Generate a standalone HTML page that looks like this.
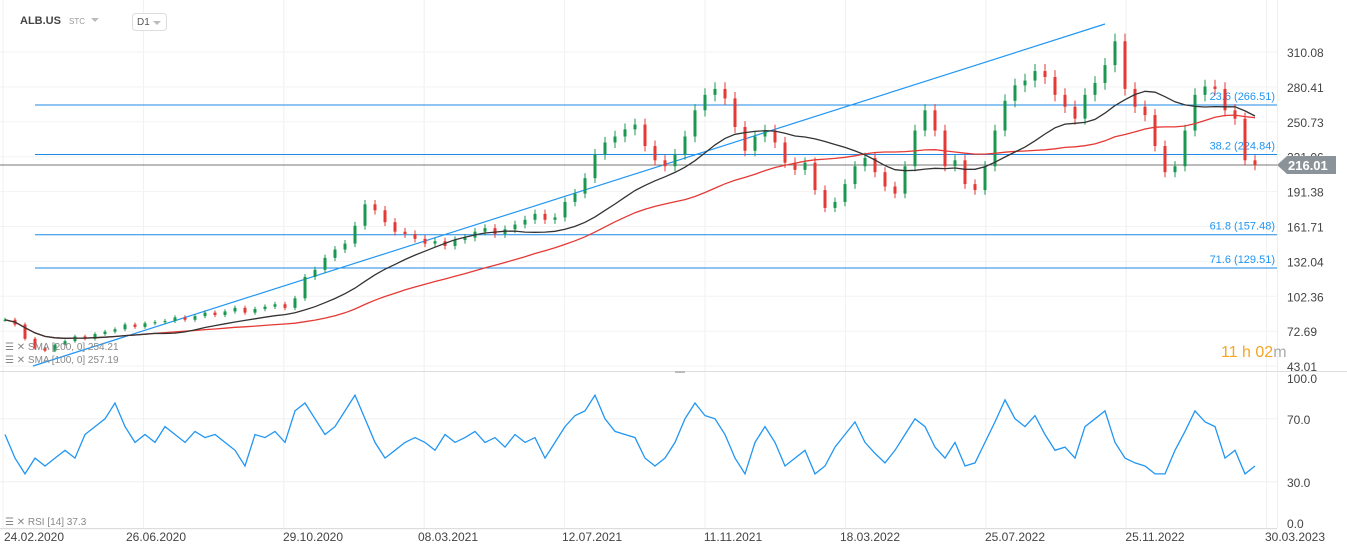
<!DOCTYPE html>
<html><head><meta charset="utf-8">
<style>
body{margin:0;background:#fff;width:1347px;height:555px;overflow:hidden;font-family:"Liberation Sans",sans-serif}
svg{display:block}
text{font-family:"Liberation Sans",sans-serif}
</style></head>
<body>
<svg id="c" width="1347" height="555">
<g id="grid"></g>
<g id="fib"></g>
<g id="candles"></g>
<g id="mas"></g>
<g id="rsi"></g>
<g id="axes"></g>
<text x="20" y="24" font-size="11" font-weight="bold" fill="#444">ALB.US</text>
<text x="69" y="24" font-size="8" fill="#999">STC</text>
<path d="M91 18 L99 18 L95 22 Z" fill="#bbb"/>
<rect x="132.5" y="13.5" width="34" height="17" rx="3" fill="#fff" stroke="#ddd"/>
<text x="137" y="25" font-size="10" fill="#555">D1</text>
<path d="M153 21 L161 21 L157 25 Z" fill="#bbb"/>
<text x="5" y="350" font-size="10" fill="#888">☰ ✕ SMA [200, 0] 254.21</text>
<text x="5" y="363" font-size="10" fill="#888">☰ ✕ SMA [100, 0] 257.19</text>
<text x="5" y="525" font-size="10" fill="#888">☰ ✕ RSI [14] 37.3</text>
<text x="1221" y="357" font-size="16" fill="#f5a623">11 h 02<tspan fill="#aaa">m</tspan></text>
<rect x="675" y="371" width="10" height="2" fill="#bbb"/>
</svg>
<script>
const prices=[86,82,70,62,60,65,68,72,70,74,76,78,82,80,83,84,85,88,86,89,92,90,93,96,92,95,97,99,96,104,122,128,138,145,150,165,183,178,168,160,158,154,150,152,148,153,155,160,163,158,162,166,170,175,170,172,185,192,205,225,235,240,246,250,232,220,215,225,240,262,275,280,272,248,228,240,245,235,218,212,218,195,180,185,200,215,222,210,198,192,215,245,262,245,215,220,200,195,215,245,270,283,287,295,290,275,265,255,275,285,300,320,280,265,258,232,210,215,245,275,282,280,262,255,220,216];
const rsiVals=[60,45,35,45,40,45,50,45,60,65,70,80,65,55,60,55,65,60,55,62,58,60,55,50,40,60,58,62,55,75,80,70,60,65,75,85,70,55,45,50,55,58,55,50,60,55,58,62,55,58,52,60,55,58,45,55,65,72,75,85,70,62,60,58,45,40,45,55,70,80,72,70,60,45,35,55,65,55,40,45,50,35,40,52,60,68,55,48,42,50,60,70,65,52,45,55,40,42,55,68,82,70,65,72,60,50,52,45,65,70,75,55,45,42,40,35,35,50,62,75,68,65,45,50,35,40];
const priceTicks=["310.08","280.41","250.73","221.06","191.38","161.71","132.04","102.36","72.69","43.01"];
const fibLevels=[266.51,224.84,157.48,129.51];
const fibNames=["23.6","38.2","61.8","71.6"];
const lastPrice=216.01;
const rsiTicks=[100,70,30,0];
const dateLabels=["24.02.2020","26.06.2020","29.10.2020","08.03.2021","12.07.2021","11.11.2021","18.03.2022","25.07.2022","25.11.2022","30.03.2023"];
const NS="http://www.w3.org/2000/svg";
const py=p=>422.1-1.19*p;
const ry=v=>529-1.575*v;
const xi=i=>5+i*10;
function mk(t,a,parent){const e=document.createElementNS(NS,t);for(const k in a)e.setAttribute(k,a[k]);document.getElementById(parent).appendChild(e);return e;}
for(let k=0;k<10;k++){const gx=3+140.4*k;const l=mk('line',{x1:gx,x2:gx,y1:0,y2:528,stroke:'#f0f0f0'},'grid');

}
priceTicks.forEach((t,i)=>{const y=52+i*34.9;
const l=mk('line',{x1:0,x2:1277,y1:y,y2:y,stroke:'#f3f3f3'},'grid');


const tx=mk('text',{x:1287,y:y+5,'font-size':12,fill:'#444'},'axes');tx.textContent=t;

});
rsiTicks.forEach(v=>{const y=ry(v);
const l=mk('line',{x1:0,x2:1277,y1:y,y2:y,stroke:'#f0f0f0'},'grid');


const ly=v===100?383:(v===0?528:y+5);
const tx=mk('text',{x:1287,y:ly,'font-size':12,fill:'#444'},'axes');tx.textContent=v.toFixed(1);

});
const dx=[34,156,313,448,592,733,870,1015,1155,1295];
dateLabels.forEach((d,i)=>{const tx=mk('text',{x:dx[i],y:541,'font-size':12,fill:'#444','text-anchor':'middle'},'axes');tx.textContent=d;

});
let a=mk('line',{x1:0,x2:1347,y1:371.5,y2:371.5,stroke:'#ddd'},'axes');


a=mk('line',{x1:0,x2:1277,y1:528.5,y2:528.5,stroke:'#ddd'},'axes');


a=mk('line',{x1:1277.5,x2:1277.5,y1:0,y2:528,stroke:'#eee'},'axes');


fibLevels.forEach((f,i)=>{const y=py(f);
const l=mk('line',{x1:35,x2:1277,y1:y,y2:y,stroke:'#1e88e5','stroke-width':1},'fib');


const t=mk('text',{x:1275,y:y-5,'font-size':11,fill:'#2196f3','text-anchor':'end'},'fib');t.textContent=fibNames[i]+" ("+f.toFixed(2)+")";

});
let tl=mk('line',{x1:33,y1:366,x2:1105,y2:24,stroke:'#2196f3','stroke-width':1.2},'fib');


let cl=mk('line',{x1:0,x2:1277,y1:py(lastPrice),y2:py(lastPrice),stroke:'#777'},'fib');


let cb=mk('path',{d:`M1277 ${py(lastPrice)} L1287 ${py(lastPrice)-9} L1336 ${py(lastPrice)-9} L1336 ${py(lastPrice)+9} L1287 ${py(lastPrice)+9} Z`,fill:'#8a9399'},'axes');


let ct=mk('text',{x:1288,y:py(lastPrice)+5,'font-size':13,'font-weight':'bold',fill:'#fff'},'axes');ct.textContent=lastPrice.toFixed(2);


prices.forEach((c,i)=>{const o=i?prices[i-1]:c;const up=c>=o;const col=up?'#1a9850':'#e53935';
const hi=Math.max(o,c)*1.02,lo=Math.min(o,c)*0.98;const x=xi(i);
const w=mk('line',{x1:x,x2:x,y1:py(hi),y2:py(lo),stroke:col},'candles');


const r=mk('rect',{x:x-1.5,y:py(Math.max(o,c)),width:3,height:Math.max(1,Math.abs(py(o)-py(c))),fill:col},'candles');

});
function sma(n){return prices.map((_,i)=>{const s=prices.slice(Math.max(0,i-n+1),i+1);return s.reduce((a,b)=>a+b,0)/s.length;});}
[[32,'#e53935','sma-200-line'],[16,'#333','sma-100-line']].forEach(([n,col,nm])=>{const m=sma(n);
const p=mk('path',{d:m.map((v,i)=>(i?'L':'M')+xi(i)+' '+py(v).toFixed(1)).join(' '),fill:'none',stroke:col,'stroke-width':1.3},'mas');

});
const rp=mk('path',{d:rsiVals.map((v,i)=>(i?'L':'M')+xi(i)+' '+ry(v).toFixed(1)).join(' '),fill:'none',stroke:'#2196f3','stroke-width':1.3},'rsi');


</script>
</body></html>
